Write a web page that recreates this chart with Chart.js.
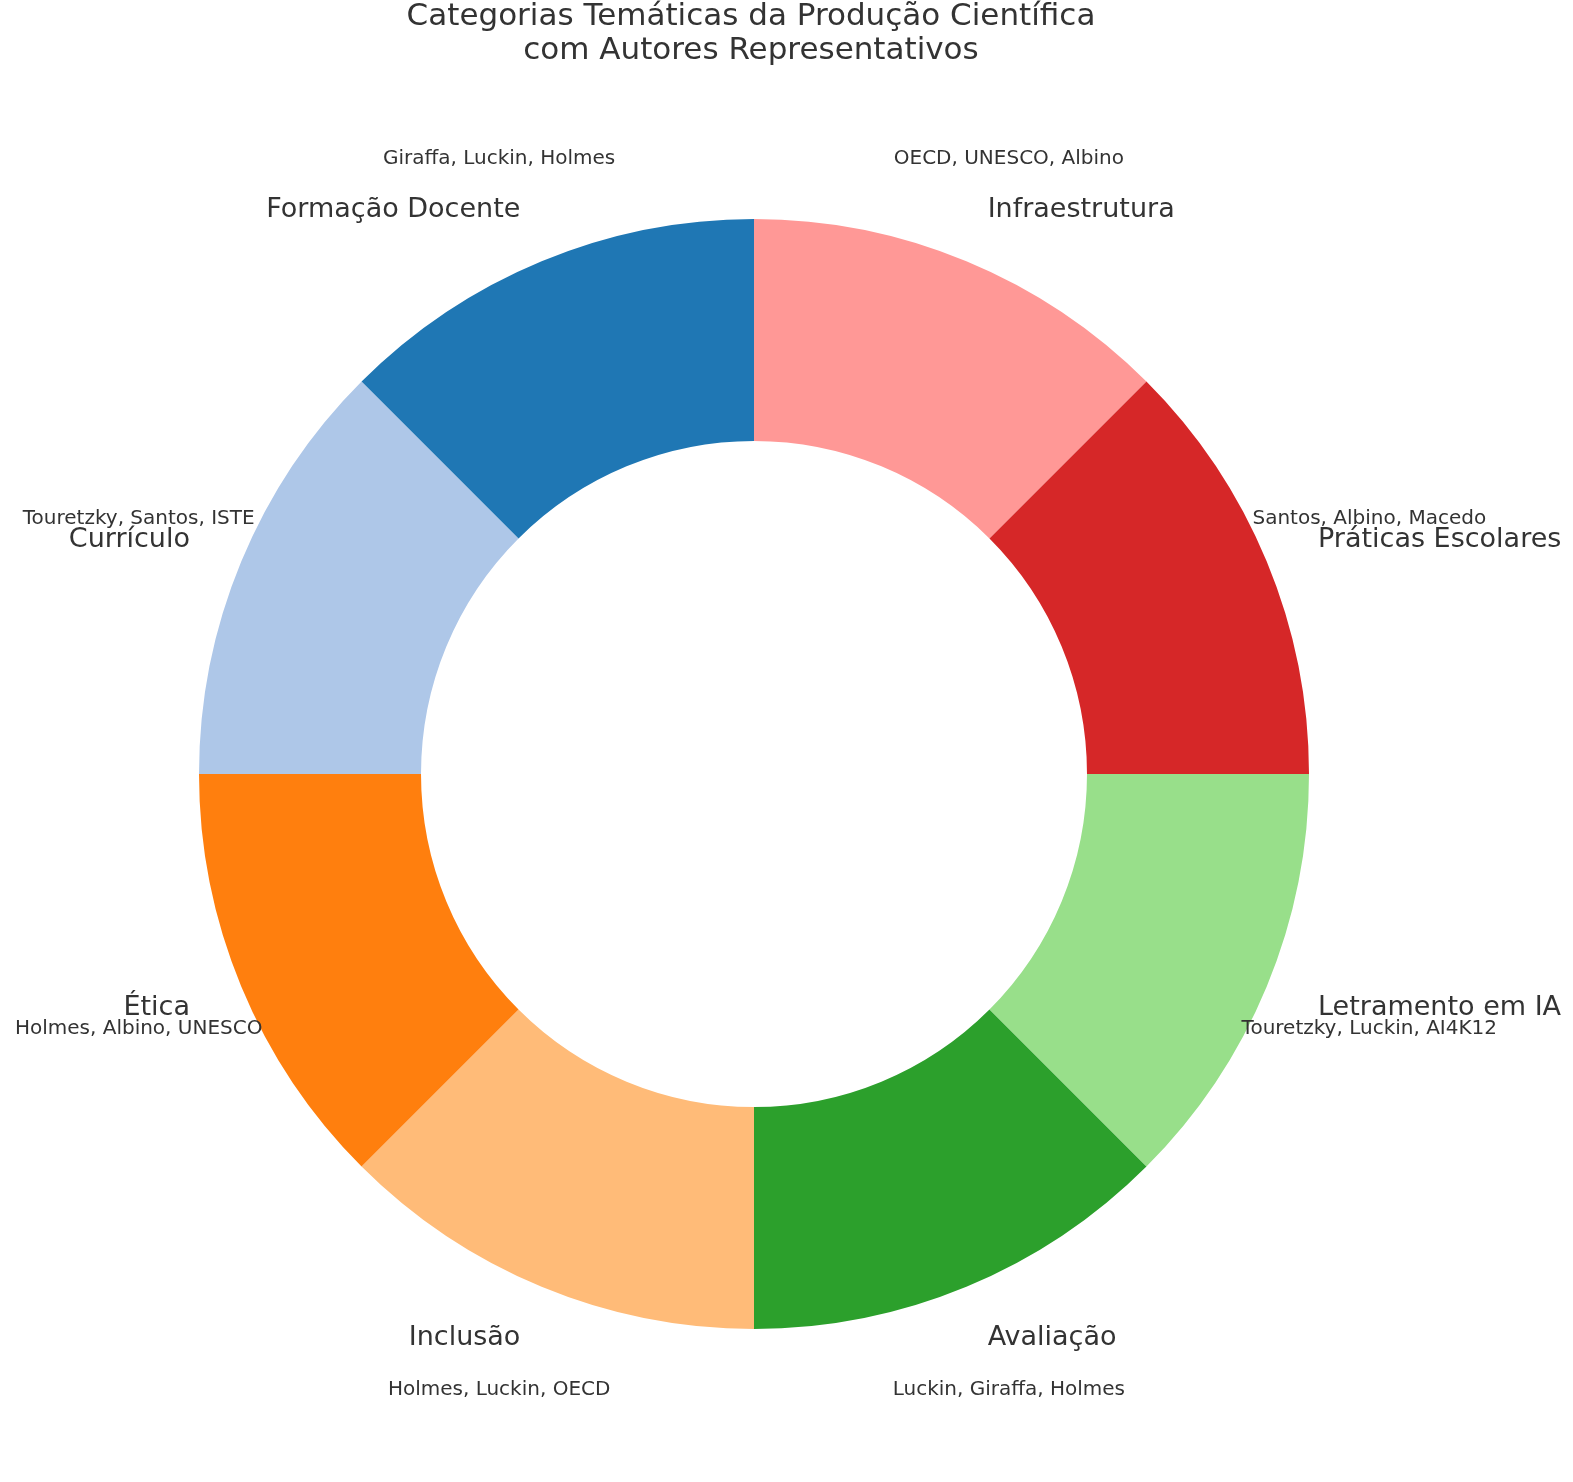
<!DOCTYPE html>
<html>
<head>
<meta charset="utf-8">
<script src="https://cdn.jsdelivr.net/npm/chart.js@4.4.0/dist/chart.umd.min.js"></script>
<style>
  html, body { margin: 0; padding: 0; background: #fff; }
  #wrap { width: 1573px; height: 1482px; }
</style>
</head>
<body>
<div id="wrap"><canvas id="donut"></canvas></div>
<script>
// clockwise from the top
const categories = ['Infraestrutura', 'Práticas Escolares', 'Letramento em IA', 'Avaliação',
                    'Inclusão', 'Ética', 'Currículo', 'Formação Docente'];
const values = [1, 1, 1, 1, 1, 1, 1, 1];
const authors = ['OECD, UNESCO, Albino', 'Santos, Albino, Macedo', 'Touretzky, Luckin, AI4K12',
                 'Luckin, Giraffa, Holmes', 'Holmes, Luckin, OECD', 'Holmes, Albino, UNESCO',
                 'Touretzky, Santos, ISTE', 'Giraffa, Luckin, Holmes'];
const colors = ['#ff9896', '#d62728', '#98df8a', '#2ca02c', '#ffbb78', '#ff7f0e', '#aec7e8', '#1f77b4'];
const titleLines = ['Categorias Temáticas da Produção Científica', 'com Autores Representativos'];

const FONT = '"DejaVu Sans", sans-serif';
const TEXT = '#333333';

const labelPlugin = {
  id: 'pieLabels',
  afterDraw(chart) {
    const ctx = chart.ctx;
    const meta = chart.getDatasetMeta(0);
    ctx.save();
    ctx.fillStyle = TEXT;
    ctx.textBaseline = 'middle';

    meta.data.forEach((arc, i) => {
      const a = (arc.startAngle + arc.endAngle) / 2;
      const R = arc.outerRadius;
      const cx = arc.x, cy = arc.y;
      const lx = cx + Math.cos(a) * R * 1.1;
      const ly = cy + Math.sin(a) * R * 1.1;
      ctx.font = '27px ' + FONT;
      ctx.textAlign = Math.cos(a) > 0 ? 'left' : 'right';
      ctx.fillText(categories[i], lx, ly);

      const ax = cx + Math.cos(a) * R * 1.2;
      const ay = cy + Math.sin(a) * R * 1.2;
      ctx.font = '20px ' + FONT;
      ctx.textAlign = 'center';
      ctx.fillText(authors[i], ax, ay);
    });

    ctx.font = '31px ' + FONT;
    ctx.textAlign = 'center';
    titleLines.forEach((t, k) => ctx.fillText(t, 751, 17 + k * 34));
    ctx.restore();
  }
};

new Chart(document.getElementById('donut'), {
  type: 'doughnut',
  data: {
    labels: categories,
    datasets: [{ data: values, backgroundColor: colors, borderWidth: 0 }]
  },
  options: {
    responsive: true,
    maintainAspectRatio: false,
    animation: false,
    cutout: '60%',
    layout: { padding: { left: 199, right: 264, top: 219, bottom: 153 } },
    plugins: { legend: { display: false }, tooltip: { enabled: false } }
  },
  plugins: [labelPlugin]
});
</script>
</body>
</html>
